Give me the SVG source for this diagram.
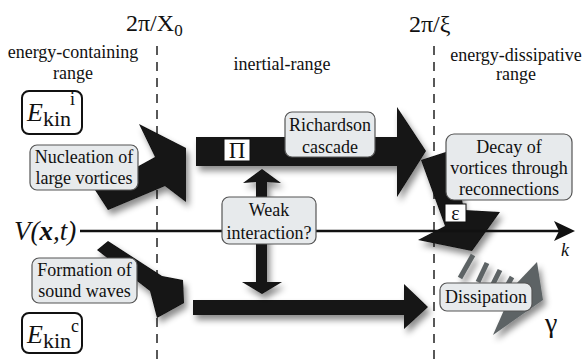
<svg xmlns="http://www.w3.org/2000/svg" width="585" height="364" viewBox="0 0 585 364" font-family="'Liberation Serif', 'DejaVu Serif', serif">
<defs>
<filter id="sh" x="-30%" y="-30%" width="170%" height="180%"><feDropShadow dx="3" dy="5" stdDeviation="3" flood-color="#000" flood-opacity="0.45"/></filter>
</defs>
<style>
text{font-family:'Liberation Serif','DejaVu Serif',serif;fill:#111}
.lbl{font-size:18px;text-anchor:middle}
.box{fill:#e7eaec;stroke:#555;stroke-width:1.2}
.ek{fill:#fff;stroke:#111;stroke-width:2}
.arr{fill:#121212;filter:url(#sh)}
.gry{fill:#5d6365;filter:url(#sh)}
.stripe{stroke:#5d6365;stroke-width:5;fill:none}
.dash{stroke:#222;stroke-width:1.5;stroke-dasharray:9 7;fill:none}
.wb{fill:#fff;stroke:#111;stroke-width:1}
</style>
<rect width="585" height="364" fill="#fff"/>

<g id="scales">
<text x="126" y="31" font-size="24">2π/X<tspan font-size="17" dy="5">0</tspan></text>
<text x="409" y="32" font-size="24">2π/ξ</text>
<line class="dash" x1="157" y1="46" x2="157" y2="364"/>
<line class="dash" x1="434" y1="46" x2="434" y2="364"/>
</g>

<g id="ranges">
<text class="lbl" x="73" y="58">energy-containing</text>
<text class="lbl" x="73" y="79">range</text>
<text class="lbl" x="282" y="70">inertial-range</text>
<text class="lbl" x="516" y="61">energy-dissipative</text>
<text class="lbl" x="516" y="80">range</text>
</g>

<g id="connectors">
<polygon class="arr" points="108,210 95,190 155,157 139,124 186,148 186,202 165,186"/>
<polygon class="arr" points="196,137 397,137 397,107 426,151 397,197 397,166 196,166"/>
<polygon class="arr" points="421,160 452,150 464,210 500,212 472,251 418,240 445,226"/>
<polygon class="arr" points="97,250 108,241 162,276 183,280 184,303 157,318 150,291"/>
<polygon class="arr" points="193,300 404,300 404,284 428,307 404,329 404,315 193,315"/>
<path class="arr" d="M256,182 L243,183 L262,169 L281,183 L267,182 L267,282 L282,282 L262,294 L242,282 L256,282 Z"/>
<g filter="url(#sh)">
<line class="stripe" x1="473" y1="255" x2="460" y2="278"/>
<line class="stripe" x1="487" y1="263" x2="478" y2="282"/>
<line class="stripe" x1="500" y1="270" x2="493" y2="284"/>
<line class="stripe" x1="512" y1="277" x2="507" y2="286"/>
</g>
<polygon class="gry" points="537,262 543,300 493,335 515,285"/>
<line x1="80" y1="231" x2="562" y2="231" stroke="#111" stroke-width="2.5"/>
<path d="M575,231 L554,221 L559,231 L554,241 Z" fill="#111"/>
</g>

<g id="axis-labels">
<text x="14" y="240" font-size="27" font-style="italic">V(<tspan font-weight="bold">x</tspan>,t)</text>
<text x="561" y="256" font-size="18" font-style="italic">k</text>
<text x="545" y="332" font-size="28">γ</text>
</g>

<g id="Ekin-i">
<rect class="ek" x="22" y="91" width="60" height="43" rx="7"/>
<text x="27" y="121" font-size="26" font-style="italic">E</text>
<text x="43" y="126" font-size="22">kin</text>
<text x="70" y="105" font-size="18">i</text>
</g>

<g id="Ekin-c">
<rect class="ek" x="22" y="313" width="60" height="40" rx="7"/>
<text x="27" y="343" font-size="26" font-style="italic">E</text>
<text x="43" y="348" font-size="22">kin</text>
<text x="71" y="332" font-size="18">c</text>
</g>

<g id="nucleation">
<rect class="box" x="30" y="145" width="108" height="45" rx="7"/>
<text class="lbl" x="84" y="163">Nucleation of</text>
<text class="lbl" x="84" y="184">large vortices</text>
</g>

<g id="pi">
<rect class="wb" x="224" y="139" width="26" height="22"/>
<text x="237" y="158" font-size="23" text-anchor="middle">Π</text>
</g>

<g id="richardson">
<rect class="box" x="285" y="112" width="90" height="45" rx="7"/>
<text class="lbl" x="330" y="131">Richardson</text>
<text class="lbl" x="330" y="153">cascade</text>
</g>

<g id="weak">
<rect class="box" x="222" y="197" width="94" height="47" rx="7"/>
<text class="lbl" x="269" y="216">Weak</text>
<text class="lbl" x="269" y="239">interaction?</text>
</g>

<g id="decay">
<rect class="box" x="446" y="134" width="126" height="66" rx="8"/>
<text class="lbl" x="509" y="153">Decay of</text>
<text class="lbl" x="509" y="174">vortices through</text>
<text class="lbl" x="509" y="195">reconnections</text>
</g>

<g id="epsilon">
<rect class="wb" x="445" y="204" width="21" height="18"/>
<text x="455.5" y="220" font-size="20" text-anchor="middle">ε</text>
</g>

<g id="formation">
<rect class="box" x="32" y="258" width="105" height="45" rx="7"/>
<text class="lbl" x="84.5" y="276">Formation of</text>
<text class="lbl" x="84.5" y="297">sound waves</text>
</g>

<g id="dissipation">
<rect class="box" x="440" y="283" width="92" height="28" rx="7"/>
<text class="lbl" x="486" y="303">Dissipation</text>
</g>
</svg>
